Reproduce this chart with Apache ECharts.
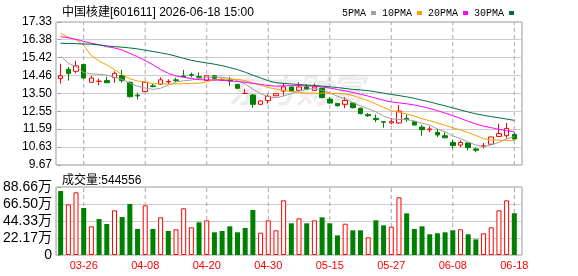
<!DOCTYPE html>
<html><head><meta charset="utf-8">
<script src="https://cdn.jsdelivr.net/npm/echarts@6/dist/echarts.min.js"></script>
<style>html,body{margin:0;padding:0;background:#fff}#c{width:578px;height:276px}</style>
</head><body><div id="c"></div>
<script>
const dates = ['03-23','03-24','03-25','03-26','03-27','03-30','03-31','04-01','04-02','04-03','04-07','04-08','04-09','04-10','04-13','04-14','04-15','04-16','04-17','04-20','04-21','04-22','04-23','04-24','04-27','04-28','04-29','04-30','05-06','05-07','05-08','05-11','05-12','05-13','05-14','05-15','05-18','05-19','05-20','05-21','05-22','05-25','05-26','05-27','05-28','05-29','06-01','06-02','06-03','06-04','06-05','06-08','06-09','06-10','06-11','06-12','06-15','06-16','06-17','06-18'];
const opens = [14.30,14.80,14.69,15.05,14.10,14.15,14.19,14.35,14.46,14.10, 13.41,13.60,13.91,14.00,14.12,14.23,14.44,14.51,14.40,14.20, 14.45,14.22,14.23,13.99,13.50,13.42,12.92,13.13,13.38,13.63, 13.85,13.67,13.85,13.67,13.78,13.20,12.96,12.92,12.99,12.71, 12.38,12.17,11.99,11.92,11.92,12.17,11.99,11.70,11.56,11.42, 11.24,10.88,10.74,10.85,10.53,10.67,10.78,11.20,11.24,11.31];
const closes = [14.44,14.58,14.98,14.33,14.33,14.16,14.08,14.58,14.19,13.33, 13.37,14.10,13.87,14.23,14.15,14.19,14.40,14.48,14.37,14.45, 14.31,14.26,14.17,13.78,13.51,12.92,13.10,13.35,13.49,13.85, 13.63,13.85,13.74,13.85,13.28,12.99,12.85,13.13,12.74,12.42, 12.31,12.10,11.96,11.99,12.56,12.10,11.81,11.56,11.60,11.28, 11.13,10.71,10.88,10.60,10.46,10.70,11.17,11.35,11.63,11.06];
const lows = [14.03,14.19,14.58,14.30,14.10,13.94,14.05,14.08,14.08,13.28, 13.19,13.60,13.83,13.96,14.01,14.10,14.37,14.37,14.26,14.17, 14.20,14.17,13.92,13.74,13.49,12.74,12.88,12.97,13.38,13.38, 13.62,13.63,13.70,13.63,13.24,12.96,12.79,12.71,12.71,12.38, 12.24,11.96,11.67,11.85,11.88,11.99,11.80,11.24,11.42,11.17, 11.10,10.56,10.63,10.46,10.35,10.56,10.74,11.17,11.10,11.06];
const highs = [15.10,14.92,15.26,15.07,14.44,14.30,14.40,14.69,14.76,14.14, 13.55,14.14,14.01,14.37,14.26,14.35,14.76,14.62,14.62,14.49, 14.49,14.31,14.38,13.99,13.74,13.46,13.13,13.45,13.53,14.06, 13.87,14.10,13.99,14.03,13.81,13.31,12.99,13.31,13.03,12.74, 12.46,12.38,11.99,12.17,12.88,12.38,12.00,11.81,11.74,11.60, 11.42,11.03,10.99,10.85,10.60,10.85,11.17,11.88,11.92,11.42];
const ma5 = [15.51,15.12,14.94,14.62,14.55,14.53,14.49,14.37,14.26,14.05, 13.89,13.79,13.72,13.78,13.95,14.12,14.18,14.22,14.30,14.35, 14.39,14.37,14.31,14.19,14.01,13.73,13.49,13.33,13.28,13.36, 13.50,13.63,13.71,13.78,13.67,13.54,13.35,13.23,13.01,12.84, 12.68,12.52,12.29,12.14,12.11,12.10,12.03,11.91,11.81,11.60, 11.44,11.23,11.08,10.90,10.74,10.66,10.75,10.88,11.07,11.19];
const ma10 = [16.72,16.52,16.37,16.08,15.53,15.24,15.03,14.78,14.51,14.29, 14.17,14.12,14.03,14.01,14.00,14.01,14.03,14.04,14.05,14.12, 14.24,14.26,14.27,14.26,14.19,14.07,13.94,13.82,13.74,13.67, 13.61,13.56,13.52,13.52,13.52,13.51,13.50,13.48,13.39,13.25, 13.12,12.94,12.76,12.58,12.50,12.40,12.29,12.15,12.04,11.92, 11.80,11.66,11.55,11.40,11.25,11.08,11.01,11.00,10.99,10.97];
const ma20 = [16.54,16.49,16.40,16.29,16.19,16.12,16.01,15.94,15.83,15.65, 15.47,15.26,15.04,14.79,14.58,14.44,14.37,14.30,14.24,14.23, 14.22,14.21,14.17,14.14,14.10,14.04,13.99,13.93,13.89,13.91, 13.92,13.92,13.91,13.89,13.85,13.79,13.71,13.64,13.56,13.46, 13.36,13.25,13.14,13.05,13.00,12.95,12.88,12.80,12.70,12.58, 12.45,12.31,12.17,12.01,11.87,11.75,11.67,11.58,11.52,11.44];
const ma30 = [16.19,16.18,16.17,16.15,16.14,16.10,16.05,16.01,15.98,15.94, 15.89,15.82,15.75,15.68,15.60,15.50,15.38,15.28,15.20,15.14, 15.07,14.99,14.89,14.78,14.64,14.48,14.34,14.18,14.08,14.04, 14.01,13.98,13.95,13.93,13.90,13.86,13.82,13.77,13.72,13.69, 13.65,13.59,13.52,13.45,13.39,13.32,13.24,13.14,13.05,12.94, 12.84,12.73,12.62,12.51,12.41,12.33,12.26,12.20,12.13,12.06];
const volumes = [83.4,66.1,81.7,61.3,37.4,46.9,40.4,58.3,49.5,66.5, 33.9,64.8,33.9,49.1,31.3,33.5,60.9,36.1,42.6,45.2, 29.6,31.3,37.4,29.6,35.2,58.7,29.1,45.2,32.2,71.3, 41.3,47.8,41.3,45.2,49.1,41.3,25.6,40.8,32.2,32.2, 23.1,45.2,38.7,36.9,75.2,54.3,33.9,37.4,27.0,28.3, 29.6,32.2,33.5,27.0,20.4,28.3,36.1,58.3,71.3,54.4556];
const volUp = [0,1,1,0,1,0,0,1,0,0, 0,1,0,1,0,1,1,1,0,1, 0,0,0,0,0,0,1,1,1,1, 0,1,0,1,0,0,0,1,0,0, 1,0,0,1,1,0,0,0,0,0, 0,0,1,0,0,1,1,1,1,0];
const priceTicks = [9.67,10.63,11.59,12.55,13.50,14.46,15.42,16.38,17.33];
const volTicks = [0,22.17,44.33,66.50,88.66];
const dateTickIdx = [3,11,19,27,35,43,51,59];
const titleText = '中国核建[601611] 2026-06-18 15:00';
const volTitle = '成交量:544556';
const maNames = ['5PMA','10PMA','20PMA','30PMA'];

const FONT = '"Liberation Sans", "Noto Sans CJK SC", sans-serif';
const RED = '#ff0000', GREEN = '#008000';
const GUIDE = '#a8a8a8';
const chart = echarts.init(document.getElementById('c'), null, {renderer:'canvas'});
const mkLine = (name, arr, color) => ({
  name, type:'line', xAxisIndex:0, yAxisIndex:0, symbol:'none', silent:true, z:5,
  color, lineStyle:{width:1, color}, data: arr.map((v,i)=>[i,v])
});
// vertical dashed guides at the labelled dates, drawn through the axes
const guides = (ai, lo, hi) => dateTickIdx.map(v => ({
  type:'line', xAxisIndex:ai, yAxisIndex:ai, symbol:'none', silent:true, z:1,
  color:GUIDE, lineStyle:{width:1, color:GUIDE, type:[4,3]},
  data:[[v, lo],[v, hi]]
}));
const option = {
  animation:false,
  backgroundColor:'#fff',
  title:[
    {text:titleText, left:57, top:2, textStyle:{fontSize:12, fontWeight:'normal', color:'#000', fontFamily:FONT}},
    {text:volTitle, left:57, top:170, textStyle:{fontSize:12, fontWeight:'normal', color:'#000', fontFamily:FONT}}
  ],
  legend:{left:337, top:3, align:'right', icon:'rect', itemWidth:5, itemHeight:4, itemGap:6,
    textStyle:{fontSize:10, color:'#000', fontFamily:'"Liberation Mono", monospace'}, data:maNames},
  graphic:[{type:'text', left:228, top:73, z:-1, silent:true,
    style:{text:'东方财富', font:'italic bold 34px "Noto Sans CJK SC"', fill:'rgba(0,0,0,0.07)'}}],
  grid:[
    {left:56, top:22, width:466, height:143, show:true, borderColor:'#999', borderWidth:1},
    {left:56, top:187, width:466, height:68, show:true, borderColor:'#999', borderWidth:1}
  ],
  xAxis:[
    {type:'value', gridIndex:0, min:-0.6, max:60, axisLine:{show:false},
     axisTick:{show:false}, axisLabel:{show:false}, splitLine:{show:false}},
    {type:'value', gridIndex:1, min:-0.6, max:60, axisLine:{show:false},
     axisTick:{show:false, customValues:dateTickIdx},
     axisLabel:{show:true, customValues:dateTickIdx, formatter:v=>dates[Math.round(v)], color:RED, fontSize:11, fontFamily:FONT, margin:5},
     splitLine:{show:false}}
  ],
  yAxis:[
    {type:'value', gridIndex:0, min:9.67, max:17.33, axisLine:{show:false},
     axisTick:{show:true, length:3, lineStyle:{color:'#999'}, customValues:priceTicks},
     axisLabel:{customValues:priceTicks, formatter:v=>v.toFixed(2), color:'#000', fontSize:12, fontFamily:FONT, margin:4},
     splitLine:{show:true, lineStyle:{color:'#ccc'}}},
    {type:'value', gridIndex:1, min:0, max:88.66, axisLine:{show:false},
     axisTick:{show:true, length:3, lineStyle:{color:'#999'}, customValues:volTicks},
     axisLabel:{customValues:volTicks, formatter:v=> v===0 ? '0' : v.toFixed(2)+'万', color:'#000', fontSize:14, fontFamily:FONT, margin:4},
     splitLine:{show:true, lineStyle:{color:'#ccc'}}}
  ],
  series:[
    ...guides(0, priceTicks[0], priceTicks[priceTicks.length-1]),
    ...guides(1, volTicks[0], volTicks[volTicks.length-1]),
    {type:'candlestick', xAxisIndex:0, yAxisIndex:0, barWidth:5, silent:true, z:3,
     encode:{x:0, y:[1,2,3,4]},
     itemStyle:{color:'#fff', color0:GREEN, borderColor:RED, borderColor0:GREEN, borderWidth:1},
     data: dates.map((d,i)=>[i, opens[i], closes[i], lows[i], highs[i]])},
    mkLine(maNames[0], ma5, '#a0a0a0'),
    mkLine(maNames[1], ma10, '#f5a300'),
    mkLine(maNames[2], ma20, '#ff00ff'),
    mkLine(maNames[3], ma30, '#006f3c'),
    {type:'bar', xAxisIndex:1, yAxisIndex:1, barWidth:5, silent:true, z:3,
     data: volumes.map((v,i)=>({value:[i,v], itemStyle: volUp[i] ? {color:'#fff', borderColor:RED, borderWidth:1} : {color:GREEN}}))}
  ]
};
chart.setOption(option);
</script></body></html>
